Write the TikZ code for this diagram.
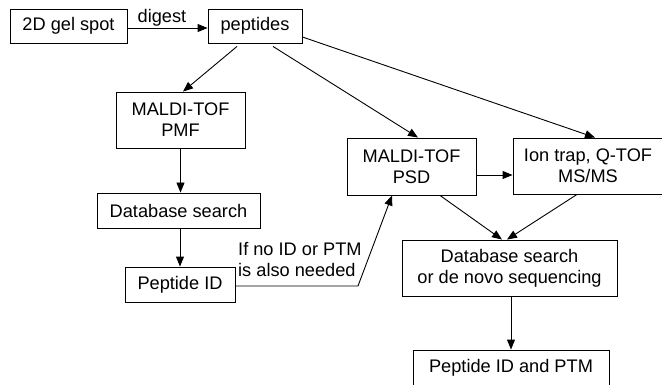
\documentclass[tikz,border=0pt]{standalone}
\usepackage{fontspec}
\setmainfont{Liberation Sans}
\usetikzlibrary{arrows.meta}
\begin{document}
\begin{tikzpicture}[x=1pt,y=-1pt,
  every node/.style={font=\fontsize{18.2}{21}\selectfont},
  box/.style={draw,line width=0.9pt,inner sep=0pt,align=center},
  arr/.style={line width=0.9pt,-{Triangle[length=10pt,width=8pt]}},
  plain/.style={line width=0.9pt}]
\useasboundingbox (0,0) rectangle (662,385);
\node[box,minimum width=117,minimum height=34] (gel) at (68.5,26) {2D gel spot};
\node[box,minimum width=94,minimum height=34] (pep) at (255,26) {peptides};
\node[box,minimum width=129,minimum height=56] (pmf) at (180.5,120) {MALDI-TOF\\PMF};
\node[box,minimum width=163,minimum height=35] (db1) at (178.5,210.5) {Database search};
\node[box,minimum width=110,minimum height=35] (pid) at (180,284.5) {Peptide ID};
\node[box,minimum width=129,minimum height=57] (psd) at (411.5,166.5) {MALDI-TOF\\PSD};
\node[box,minimum width=150,minimum height=56] (ion) at (588,166) {Ion trap, Q-TOF\\MS/MS};
\node[box,minimum width=215,minimum height=56] (db2) at (509.5,268) {Database search\\or de novo sequencing};
\node[box,minimum width=196,minimum height=36] (ptm) at (511,368) {Peptide ID and PTM};
\node[inner sep=0pt,anchor=base] (dig) at (162,23) {digest};
\node[inner sep=0pt,anchor=west,align=left] (cond) at (238,260) {If no ID or PTM\\is also needed};
\coordinate (bend) at (358,286);
\draw[arr] ([yshift=-2pt]gel.east) -- ([yshift=-2pt]pep.west);
\draw[arr] ([xshift=-18pt,yshift=-3pt]pep.south) -- ([xshift=2.5pt]pmf.north);
\draw[arr] ([xshift=18pt,yshift=-3pt]pep.south) -- ([xshift=6.5pt]psd.north);
\draw[arr] ([yshift=-11pt]pep.east) -- ([xshift=7pt]ion.north);
\draw[arr] (pmf.south) -- (pmf.south |- db1.north);
\draw[arr] (pid.north |- db1.south) -- (pid.north);
\draw[arr] ([yshift=-1.5pt]pid.east) -- (bend) -- ([xshift=-19.5pt]psd.south);
\draw[arr] ([yshift=-8.5pt]psd.east) -- ([yshift=-9pt]ion.west);
\draw[arr] ([xshift=28.5pt]psd.south) -- ([xshift=-7.5pt]db2.north);
\draw[arr] ([xshift=-11pt]ion.south) -- ([xshift=-2.5pt]db2.north);
\draw[arr] (ptm.north |- db2.south) -- (ptm.north);
\end{tikzpicture}
\end{document}
